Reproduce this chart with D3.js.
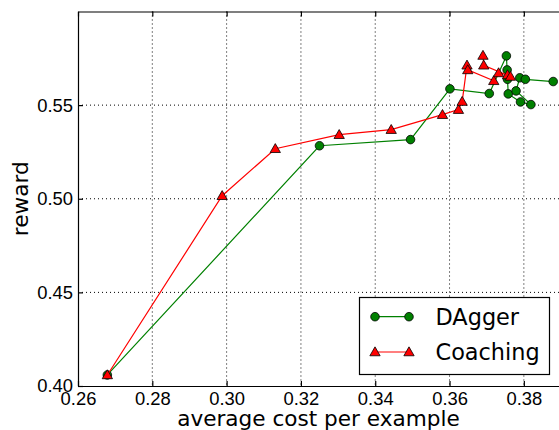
<!DOCTYPE html>
<html lang="en">
<meta charset="utf-8"/>
<head>
<script src="https://d3js.org/d3.v7.min.js"></script>
<style>
  body { margin: 0; background: #fff; }
  svg { display: block; font-family: "DejaVu Sans", sans-serif; }
  .grid line { stroke: #000; stroke-width: 1; stroke-dasharray: 1,3; }
  .axis path, .axis line { stroke: #000; stroke-width: 1.2; }
  .axis text { font-size: 18.4px; fill: #000; }
</style>
</head>
<body>
<svg width="559" height="430"></svg>
<script>
// DAgger series (average cost, reward)
let daggerCost   = [0.2679, 0.3250, 0.3495, 0.3601, 0.3707, 0.3753, 0.3755, 0.3756, 0.3758, 0.3791, 0.3819, 0.3779, 0.3789, 0.3804, 0.3879]
let daggerReward = [0.4059, 0.5283, 0.5316, 0.5587, 0.5562, 0.5763, 0.5688, 0.5638, 0.5560, 0.5517, 0.5503, 0.5576, 0.5646, 0.5638, 0.5626]

// Coaching series
let coachCost   = [0.2679, 0.2988, 0.3131, 0.3303, 0.3443, 0.3581, 0.3624, 0.3634, 0.3647, 0.3649, 0.3719, 0.3732, 0.3756, 0.3764, 0.3692, 0.3690]
let coachReward = [0.4059, 0.5016, 0.5267, 0.5342, 0.5369, 0.5449, 0.5476, 0.5519, 0.5713, 0.5688, 0.5630, 0.5672, 0.5661, 0.5653, 0.5713, 0.5765]

let seriesNames = ["DAgger", "Coaching"]
let xTicks = [0.26, 0.28, 0.30, 0.32, 0.34, 0.36, 0.38]
let yTicks = [0.40, 0.45, 0.50, 0.55]

let svg = d3.select("svg")
let padLeft = 78, padRight = 561, padTop = 11.5, padBottom = 386

let x = d3.scaleLinear().domain([0.26, 0.39]).range([padLeft, padRight])
let y = d3.scaleLinear().domain([0.40, 0.60]).range([padBottom, padTop])

// dotted grid
svg.append("g").attr("class", "grid")
  .selectAll("line").data(xTicks.slice(1)).enter().append("line")
  .attr("x1", d => x(d)).attr("x2", d => x(d))
  .attr("y1", padTop).attr("y2", padBottom)
svg.append("g").attr("class", "grid")
  .selectAll("line").data(yTicks.slice(1)).enter().append("line")
  .attr("x1", padLeft).attr("x2", padRight)
  .attr("y1", d => y(d)).attr("y2", d => y(d))

// axes with inward ticks
svg.append("g").attr("class", "axis")
  .attr("transform", "translate(0," + padBottom + ")")
  .call(d3.axisBottom(x).tickValues(xTicks).tickFormat(d3.format(".2f"))
    .tickSizeInner(-5).tickSizeOuter(0).tickPadding(6))
svg.append("g").attr("class", "axis")
  .attr("transform", "translate(0," + padTop + ")")
  .call(d3.axisTop(x).tickValues(xTicks).tickFormat("")
    .tickSizeInner(-5).tickSizeOuter(0))
svg.append("g").attr("class", "axis")
  .attr("transform", "translate(" + padLeft + ",0)")
  .call(d3.axisLeft(y).tickValues(yTicks).tickFormat(d3.format(".2f"))
    .tickSizeInner(-5).tickSizeOuter(0).tickPadding(5))

// axis titles
svg.append("text")
  .attr("x", (padLeft + padRight) / 2 - 1).attr("y", 425.5)
  .attr("text-anchor", "middle").style("font-size", "21.6px")
  .text("average cost per example")
svg.append("text")
  .attr("transform", "translate(28," + ((padTop + padBottom) / 2) + ") rotate(-90)")
  .attr("text-anchor", "middle").style("font-size", "21.6px")
  .text("reward")

let line = d3.line().x(d => x(d[0])).y(d => y(d[1]))
let tri = d3.symbol().type(d3.symbolTriangle).size(46)

let dagger = d3.zip(daggerCost, daggerReward)
let coach = d3.zip(coachCost, coachReward)

function drawGreen(g, pts) {
  g.append("path").datum(pts).attr("d", line)
    .attr("fill", "none").attr("stroke", "#008000").attr("stroke-width", 1.2)
  g.selectAll("circle").data(pts).enter().append("circle")
    .attr("cx", d => x(d[0])).attr("cy", d => y(d[1])).attr("r", 4.3)
    .attr("fill", "#008000").attr("stroke", "#000").attr("stroke-width", 0.8)
}
function drawRed(g, pts) {
  g.append("path").datum(pts).attr("d", line)
    .attr("fill", "none").attr("stroke", "#ff0000").attr("stroke-width", 1.2)
  g.selectAll(".tri").data(pts).enter().append("path").attr("class", "tri")
    .attr("d", tri)
    .attr("transform", d => "translate(" + x(d[0]) + "," + (y(d[1]) + 0.8) + ")")
    .attr("fill", "#ff0000").attr("stroke", "#000").attr("stroke-width", 0.8)
}

drawGreen(svg.append("g"), dagger)
drawRed(svg.append("g"), coach)

// legend
let lg = svg.append("g")
lg.append("rect").attr("x", 359.5).attr("y", 297.5).attr("width", 190).attr("height", 77)
  .attr("fill", "#fff").attr("stroke", "#000").attr("stroke-width", 1.2)
let rows = [316.7, 352]
seriesNames.forEach((name, i) => {
  let g = lg.append("g")
  let pts = [[375, rows[i]], [409, rows[i]]]
  let col = i == 0 ? "#008000" : "#ff0000"
  g.append("line").attr("x1", 375).attr("x2", 409).attr("y1", rows[i]).attr("y2", rows[i])
    .attr("stroke", col).attr("stroke-width", 1.2)
  if (i == 0) {
    g.selectAll("circle").data(pts).enter().append("circle")
      .attr("cx", d => d[0]).attr("cy", d => d[1]).attr("r", 4.3)
      .attr("fill", col).attr("stroke", "#000").attr("stroke-width", 0.8)
  } else {
    g.selectAll("path").data(pts).enter().append("path")
      .attr("d", tri).attr("transform", d => "translate(" + d[0] + "," + (d[1] + 0.8) + ")")
      .attr("fill", col).attr("stroke", "#000").attr("stroke-width", 0.8)
  }
  g.append("text").attr("x", 435.5).attr("y", rows[i] + 8.2)
    .style("font-size", "22.4px").text(name)
})
</script>
</body>
</html>
